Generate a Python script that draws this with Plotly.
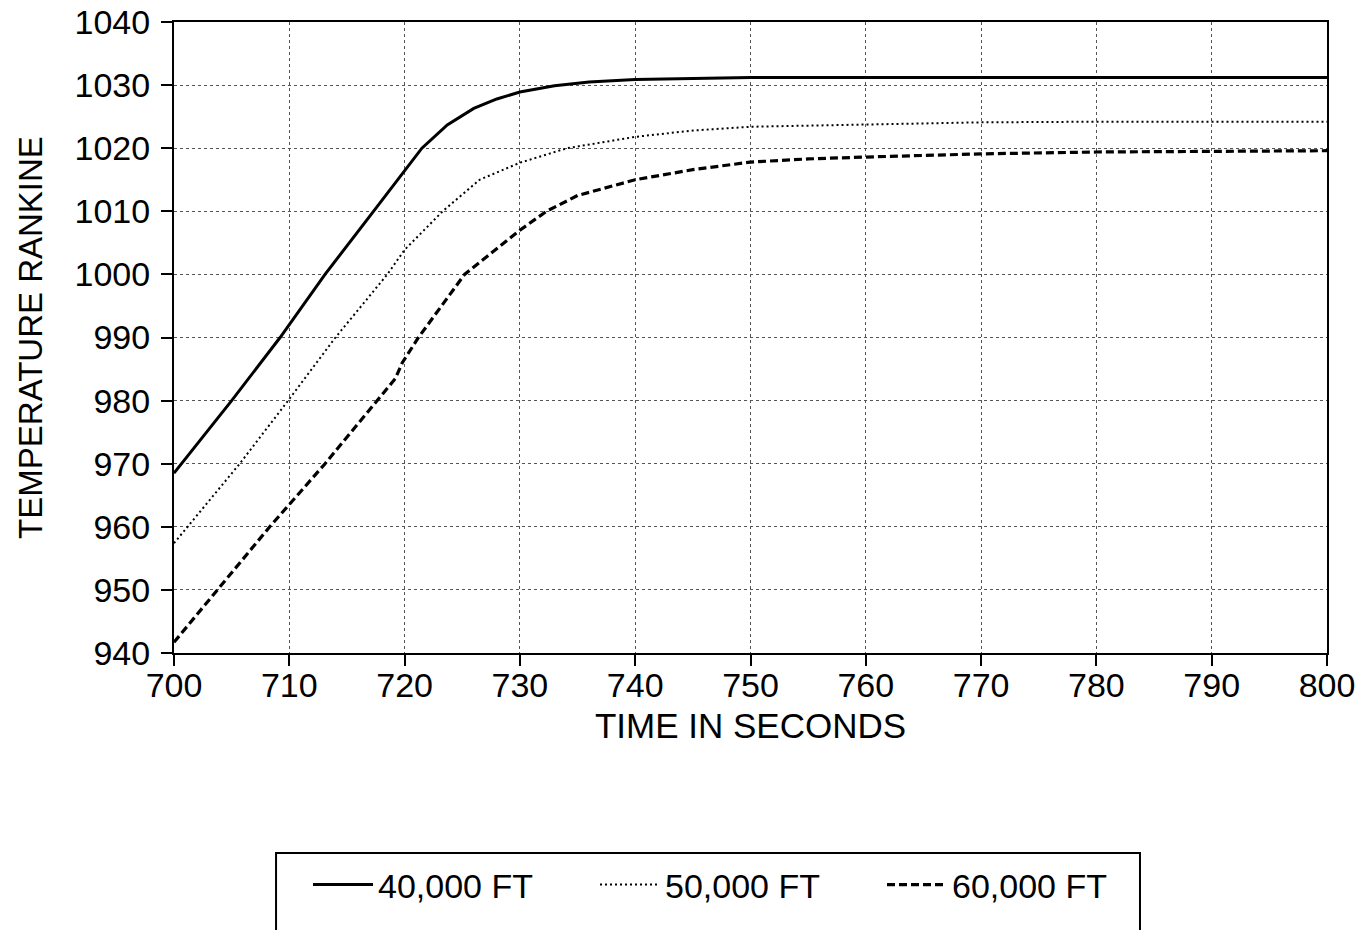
import plotly.graph_objects as go

# Time axis (seconds) and temperature (Rankine) for each altitude
t_40k = [700, 705, 709.2, 713.1, 717.3, 720, 721.5, 723.7, 726, 728, 730, 733, 736, 740, 745, 750, 800]
temp_40k = [968.5, 980, 990, 1000, 1010, 1016.5, 1020, 1023.7, 1026.3, 1027.8, 1028.9, 1029.9, 1030.5, 1030.9, 1031.1, 1031.2, 1031.2]

t_50k = [700, 705.7, 709.9, 714, 718.5, 720, 723.3, 726.5, 730, 734.1, 740, 745, 750, 760, 770, 780, 800]
temp_50k = [957.4, 970, 980, 990, 1000, 1003.9, 1010, 1015, 1017.7, 1020, 1021.8, 1022.8, 1023.4, 1023.8, 1024.1, 1024.2, 1024.2]

t_60k = [700, 703.8, 708.3, 713.1, 717.6, 719.2, 719.8, 721.2, 725.2, 730, 732.3, 735, 740, 745, 750, 755, 760, 770, 780, 790, 800]
temp_60k = [941.7, 950, 960, 970, 980, 983.5, 986, 990, 1000, 1007, 1010, 1012.5, 1015, 1016.6, 1017.8, 1018.3, 1018.6, 1019.1, 1019.4, 1019.5, 1019.6]

series_names = ["40,000 FT", "50,000 FT", "60,000 FT"]
x_ticks = list(range(700, 801, 10))
y_ticks = list(range(940, 1041, 10))

FONT = "Liberation Sans, Arial, sans-serif"

fig = go.Figure()
fig.add_trace(go.Scatter(x=t_40k, y=temp_40k, mode="lines", name=series_names[0],
                         line=dict(color="black", width=3)))
fig.add_trace(go.Scatter(x=t_50k, y=temp_50k, mode="lines", name=series_names[1],
                         line=dict(color="black", width=2, dash="2px,3px")))
fig.add_trace(go.Scatter(x=t_60k, y=temp_60k, mode="lines", name=series_names[2],
                         line=dict(color="black", width=3.2, dash="8px,4px")))

axis_common = dict(
    showline=True, linecolor="black", linewidth=2, mirror=True,
    ticks="outside", ticklen=11, tickwidth=1.5, tickcolor="black",
    showgrid=True, gridcolor="#555555", gridwidth=1, griddash="dot",
    zeroline=False, automargin=False,
    tickfont=dict(family=FONT, size=34, color="black"),
)

fig.update_xaxes(range=[700, 800], tickvals=x_ticks, **axis_common, ticklabelstandoff=-10,
                 title=dict(text="TIME IN SECONDS", font=dict(family=FONT, size=35, color="black"),
                            standoff=11))
fig.update_yaxes(range=[940, 1040], tickvals=y_ticks, **axis_common, ticklabelstandoff=4,
                 title=dict(text="TEMPERATURE RANKINE", font=dict(family=FONT, size=33, color="black"),
                            standoff=22))

# Legend frame
fig.add_shape(type="rect", xref="paper", yref="paper",
              x0=0.0885, x1=0.8378, y0=-0.55, y1=-0.317,
              line=dict(color="black", width=2), fillcolor="rgba(0,0,0,0)", layer="above")

fig.update_layout(
    width=1361, height=930,
    margin=dict(l=174, r=34, t=22, b=277),
    paper_bgcolor="white", plot_bgcolor="white",
    font=dict(family=FONT, color="black"),
    legend=dict(orientation="h", xref="container", x=308 / 1361, xanchor="left",
                yref="container", y=1 - 885 / 930, yanchor="middle",
                font=dict(family=FONT, size=34, color="black"),
                bgcolor="rgba(0,0,0,0)", borderwidth=0, itemwidth=60,
                entrywidth=212, entrywidthmode="pixels"),
)

fig.write_html("out.html")
